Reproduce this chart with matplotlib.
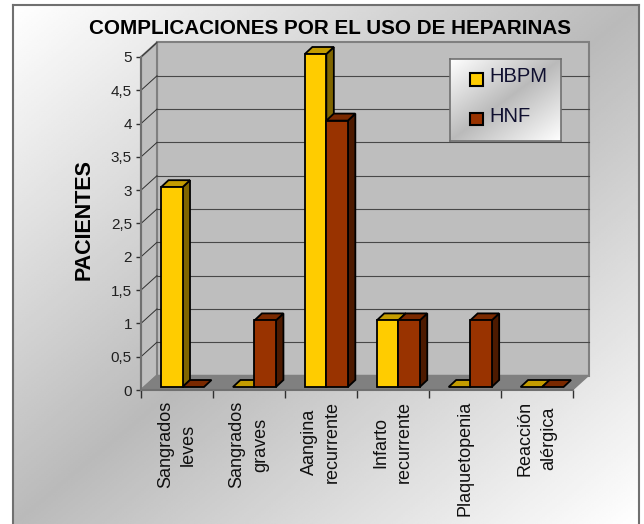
import numpy as np
import matplotlib
matplotlib.use("Agg")
import matplotlib.pyplot as plt
from matplotlib.patches import Polygon, Rectangle

plt.rcParams['font.family'] = ['Liberation Sans', 'DejaVu Sans']

categories = ["Sangrados\nleves", "Sangrados\ngraves", "Aangina\nrecurrente",
              "Infarto\nrecurrente", "Plaquetopenia", "Reacción\nalérgica"]
hbpm = [3, 0, 5, 1, 0, 0]
hnf = [0, 1, 4, 1, 1, 0]
y_ticks = [0, 0.5, 1, 1.5, 2, 2.5, 3, 3.5, 4, 4.5, 5]
y_labels = ["0", "0,5", "1", "1,5", "2", "2,5", "3", "3,5", "4", "4,5", "5"]

W, H = 644, 524
# front plane of the fake 3d box, in pixels
left, right, bottom, top = 141, 572.5, 390, 57
ux = (right - left) / 6
uy = (bottom - top) / 5
wall_dx = 16 / ux
wall_dy = 14.5 / uy
bar_x0 = 20 / ux
bar_w = 21.5 / ux
bar_dx = 7.5 / ux
bar_dy = 7 / uy
bar_lift = 3 / uy


def gradient(n=256):
    # white corner -> grey middle -> white corner
    yy, xx = np.mgrid[0:1:n * 1j, 0:1:n * 1j]
    t = (xx + yy) / 2
    return 1 - 0.27 * (1 - np.abs(2 * t - 1))


fig = plt.figure(figsize=(W / 100, H / 100), dpi=100)
fig.patch.set_facecolor("white")

bg = fig.add_axes([13 / W, 0, (639 - 13) / W, (H - 5) / H])
bg.imshow(gradient(), cmap="gray", vmin=0, vmax=1, aspect="auto")
bg.set_xticks([])
bg.set_yticks([])
for s in ["left", "top", "right"]:
    bg.spines[s].set_color("#707070")
    bg.spines[s].set_linewidth(1.5)
bg.spines["bottom"].set_visible(False)

ax = fig.add_axes([left / W, 1 - bottom / H, (right - left) / W, (bottom - top) / H])
ax.patch.set_alpha(0)
ax.set_xlim(0, 6)
ax.set_ylim(0, 5)
for s in ax.spines.values():
    s.set_visible(False)

# walls and floor
wall = "#bebebe"
edge = "#808080"
ax.add_patch(Polygon([(wall_dx, wall_dy), (6 + wall_dx, wall_dy), (6 + wall_dx, 5 + wall_dy), (wall_dx, 5 + wall_dy)],
                     fc=wall, ec=edge, lw=1.5, clip_on=False, zorder=1))
ax.add_patch(Polygon([(0, 0), (0, 5), (wall_dx, 5 + wall_dy), (wall_dx, wall_dy)],
                     fc=wall, ec=edge, lw=1.5, clip_on=False, zorder=1))
ax.add_patch(Polygon([(0, 0), (6, 0), (6 + wall_dx, wall_dy), (wall_dx, wall_dy)],
                     fc=edge, ec=edge, lw=1, clip_on=False, zorder=1))
for v in y_ticks[1:-1]:
    ax.plot([wall_dx, 6 + wall_dx], [v + wall_dy, v + wall_dy], color="#484848", lw=0.8, zorder=2, clip_on=False)
for v in y_ticks[1:]:
    ax.plot([0, wall_dx], [v, v + wall_dy], color="#303030", lw=0.7, zorder=2, clip_on=False)
ax.plot([0, 0], [0, 5], color="#707070", lw=1.5, zorder=3, clip_on=False)
ax.plot([0, 6], [0, 0], color="#707070", lw=1.5, zorder=3, clip_on=False)


def draw_bar(x, v, front, top_c, side_c, z):
    y0 = bar_lift
    y1 = v + bar_lift
    if v > 0:
        ax.bar(x, v, bar_w, bottom=y0, align="edge", color=front, edgecolor="black", lw=1.3, zorder=z + 0.2, clip_on=False)
        ax.add_patch(Polygon([(x + bar_w, y0), (x + bar_w + bar_dx, y0 + bar_dy), (x + bar_w + bar_dx, y1 + bar_dy), (x + bar_w, y1)],
                             fc=side_c, ec="black", lw=1.3, zorder=z, clip_on=False))
    ax.add_patch(Polygon([(x, y1), (x + bar_w, y1), (x + bar_w + bar_dx, y1 + bar_dy), (x + bar_dx, y1 + bar_dy)],
                         fc=top_c, ec="black", lw=1.3, zorder=z + 0.1, clip_on=False))


for i in range(len(categories)):
    draw_bar(i + bar_x0, hbpm[i], "#ffcc00", "#c49c00", "#806600", 4 + i)
    draw_bar(i + bar_x0 + bar_w, hnf[i], "#993300", "#7a2900", "#4d1a00", 4.5 + i)

ax.set_yticks(y_ticks)
ax.set_yticklabels(y_labels, fontsize=11, color="#202020")
ax.tick_params(axis="y", length=3.5, width=1, color="#303030", pad=3)
ax.set_xticks(range(7))
ax.set_xticklabels([])
ax.tick_params(axis="x", which="major", length=6, width=1, color="#303030")
ax.set_xticks(np.arange(0.5, 6), minor=True)
ax.set_xticklabels(categories, minor=True, rotation=90, fontsize=13, ha="center", va="top",
                   multialignment="center", linespacing=1.5, color="#101010")
ax.tick_params(axis="x", which="minor", length=0, pad=8)

fig.text(330 / W, 1 - 28 / H, "COMPLICACIONES POR EL USO DE HEPARINAS", fontsize=14.9, fontweight="bold",
         ha="center", va="center", color="black")
fig.text(84 / W, 1 - 220 / H, "PACIENTES", fontsize=15.5, fontweight="bold", rotation=90,
         ha="center", va="center", color="black")

# legend box
lg = fig.add_axes([450 / W, 1 - 141 / H, 111 / W, 82 / H], zorder=20)
lg.imshow(gradient(), cmap="gray", vmin=0, vmax=1, aspect="auto", extent=(450, 561, 141, 59))
lg.set_xticks([])
lg.set_yticks([])
for s in lg.spines.values():
    s.set_color("#707070")
    s.set_linewidth(1.2)
for label, col, yy in [("HBPM", "#ffcc00", 79), ("HNF", "#993300", 118.5)]:
    lg.add_patch(Rectangle((470, yy - 6), 13, 12.5, fc=col, ec="black", lw=1.5))
    lg.text(489, yy - 2, label, fontsize=14.5, va="center", ha="left", color="#101030")

fig.savefig("out.png", dpi=100)
